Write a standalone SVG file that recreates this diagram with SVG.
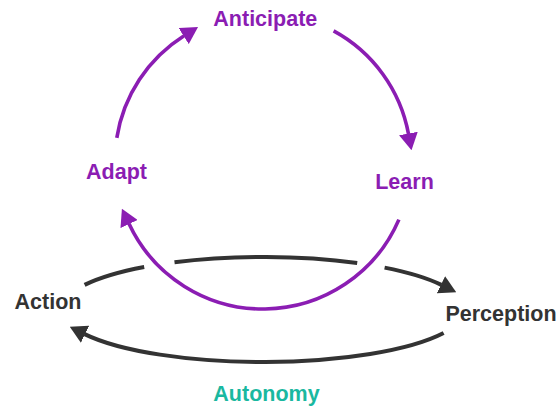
<svg xmlns="http://www.w3.org/2000/svg" width="559" height="406" viewBox="0 0 559 406">
<style>
.lbl{font-family:"Liberation Sans",Arial,sans-serif;font-weight:bold;font-size:21.5px;text-anchor:middle}
.p{fill:#8b1db3}
.k{fill:#333333}
.t{fill:#1ab8a0}
.pl{fill:none;stroke:#8b1db3;stroke-width:3.6}
.kl{fill:none;stroke:#333333;stroke-width:4}
</style>
<defs>
<marker id="ap" markerUnits="userSpaceOnUse" viewBox="0 0 17 19" refX="0.5" refY="9.5" markerWidth="17" markerHeight="19" orient="auto">
<path d="M0,0 L17,9.5 L0,19 z" fill="#8b1db3"/>
</marker>
<marker id="ak" markerUnits="userSpaceOnUse" viewBox="0 0 17 19" refX="0.5" refY="9.5" markerWidth="17" markerHeight="19" orient="auto">
<path d="M0,0 L17,9.5 L0,19 z" fill="#333333"/>
</marker>
</defs>
<rect width="559" height="406" fill="#ffffff"/>
<g id="connectors">
<path class="pl" d="M116.8,137.9 A148,148 0 0 1 184.1,35.8" marker-end="url(#ap)"/>
<path class="pl" d="M333.6,30.9 A148,148 0 0 1 408.5,134.0" marker-end="url(#ap)"/>
<path class="pl" d="M398.9,219.6 A148,148 0 0 1 128.9,223.6" marker-end="url(#ap)"/>
<path class="kl" d="M84.6,284.9 A202,52.5 0 0 1 144.2,267.0"/>
<path class="kl" d="M174.5,262.3 A202,52.5 0 0 1 357.2,263.0"/>
<path class="kl" d="M384.6,267.6 A202,52.5 0 0 1 441.4,284.9" marker-end="url(#ak)"/>
<path class="kl" d="M443.6,333.0 A202,52.5 0 0 1 84.6,334.1" marker-end="url(#ak)"/>
</g>
<g id="anticipate"><text class="lbl p" x="265.3" y="25.7">Anticipate</text></g>
<g id="learn"><text class="lbl p" x="404.5" y="189">Learn</text></g>
<g id="adapt"><text class="lbl p" x="116.5" y="179.3">Adapt</text></g>
<g id="action"><text class="lbl k" x="48" y="309">Action</text></g>
<g id="perception"><text class="lbl k" x="501" y="321">Perception</text></g>
<g id="autonomy"><text class="lbl t" x="266.5" y="400.7">Autonomy</text></g>
</svg>
